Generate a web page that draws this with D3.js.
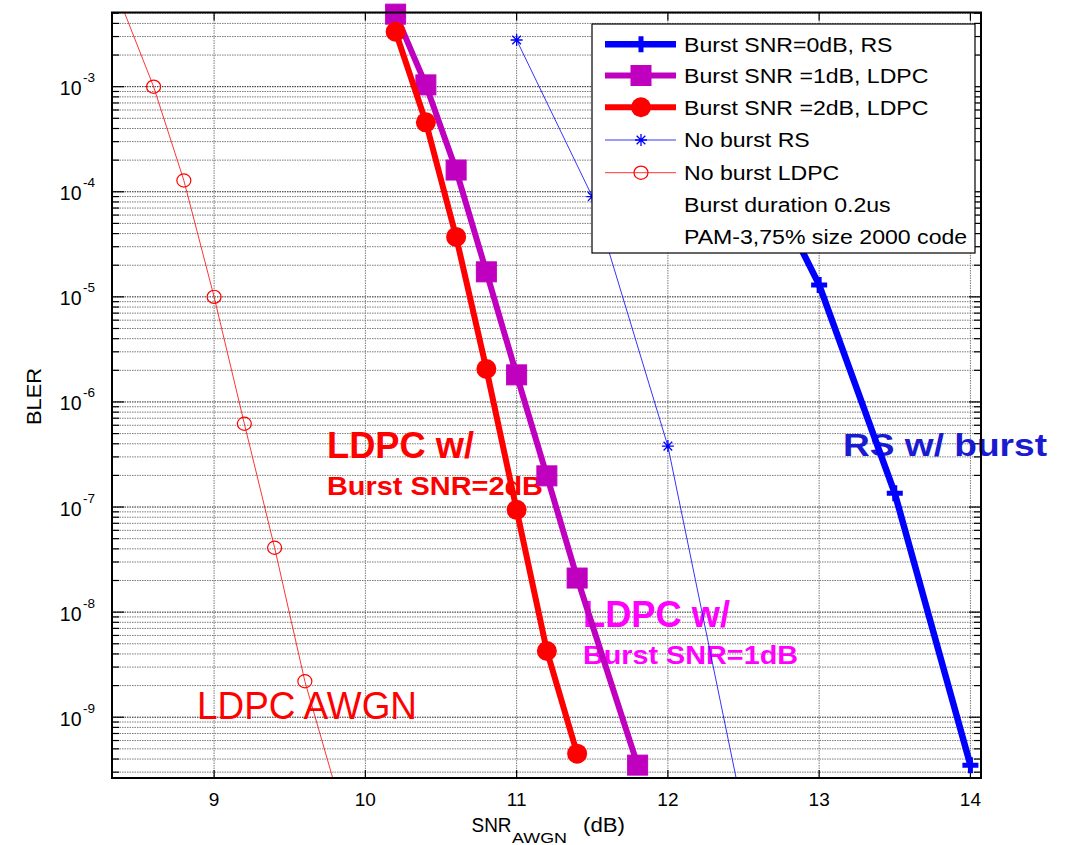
<!DOCTYPE html>
<html>
<head>
<meta charset="utf-8">
<script src="https://cdn.jsdelivr.net/npm/d3@7"></script>
<style>
  html, body { margin: 0; padding: 0; background: #fff; }
  svg { display: block; font-family: "Liberation Sans", Arial, sans-serif; }
</style>
</head>
<body>
<svg id="chart" width="1066" height="845"></svg>
<script>
// ---------------- DATA ----------------
const xTicks = [9, 10, 11, 12, 13, 14];
const yTickExps = [-3, -4, -5, -6, -7, -8, -9];

const burstRS_x = [12.5, 13.0, 13.5, 14.0];
const burstRS_y = [3.6e-4, 1.3e-5, 1.35e-7, 3.5e-10];

const burst1_x = [10.2, 10.4, 10.6, 10.8, 11.0, 11.2, 11.4, 11.8];
const burst1_y = [4.9e-3, 1.04e-3, 1.61e-4, 1.73e-5, 1.81e-6, 1.98e-7, 2.11e-8, 3.5e-10];

const burst2_x = [10.2, 10.4, 10.6, 10.8, 11.0, 11.2, 11.4];
const burst2_y = [3.33e-3, 4.58e-4, 3.72e-5, 2.06e-6, 9.4e-8, 4.27e-9, 4.5e-10];

const noburstRS_x = [11.0, 11.5, 12.0, 12.5];
const noburstRS_y = [2.78e-3, 9.0e-5, 3.8e-7, 1.2e-10];

const noburstLDPC_x = [8.4, 8.6, 8.8, 9.0, 9.2, 9.4, 9.6, 9.8];
const noburstLDPC_y = [5.4e-3, 1.0e-3, 1.28e-4, 1.0e-5, 6.2e-7, 4.1e-8, 2.2e-9, 2.2e-10];

const legendLabels = [
  "Burst SNR=0dB, RS",
  "Burst SNR =1dB, LDPC",
  "Burst SNR =2dB, LDPC",
  "No burst RS",
  "No burst LDPC",
  "Burst duration 0.2us",
  "PAM-3,75% size 2000 code"
];

const xDomain = [8.325, 14.07];
const yDomain = [2.64e-10, 5.08e-3];

// ---------------- LAYOUT ----------------
const L = 112, R = 981, T = 12.5, B = 778;
const svg = d3.select("#chart");
const x = d3.scaleLinear().domain(xDomain).range([L, R]);
const y = d3.scaleLog().domain(yDomain).range([B, T]);

svg.append("defs").append("clipPath").attr("id", "clip")
  .append("rect").attr("x", L).attr("y", T).attr("width", R - L).attr("height", B - T);

// grid
const gridG = svg.append("g");
const minorVals = [];
for (let e = -10; e <= -2; e++) {
  for (let m = 1; m <= 9; m++) {
    const v = m * Math.pow(10, e);
    if (v >= yDomain[0] && v <= yDomain[1]) minorVals.push({v, major: m === 1});
  }
}
gridG.selectAll("line.hg").data(minorVals).join("line")
  .attr("x1", L).attr("x2", R)
  .attr("y1", d => y(d.v)).attr("y2", d => y(d.v))
  .attr("stroke", d => d.major ? "#222" : "#7a7a7a")
  .attr("stroke-width", 1)
  .attr("stroke-dasharray", "1.5,1");
gridG.selectAll("line.vg").data(xTicks).join("line")
  .attr("x1", d => x(d)).attr("x2", d => x(d))
  .attr("y1", T).attr("y2", B)
  .attr("stroke", "#7a7a7a").attr("stroke-width", 1)
  .attr("stroke-dasharray", "1.5,1");

// ticks
const tickG = svg.append("g").attr("stroke", "#000").attr("stroke-width", 1.2);
minorVals.forEach(d => {
  const len = d.major ? 12 : 7;
  tickG.append("line").attr("x1", L).attr("x2", L + len).attr("y1", y(d.v)).attr("y2", y(d.v));
  tickG.append("line").attr("x1", R).attr("x2", R - len).attr("y1", y(d.v)).attr("y2", y(d.v));
});
xTicks.forEach(t => {
  tickG.append("line").attr("x1", x(t)).attr("x2", x(t)).attr("y1", B).attr("y2", B - 8);
  tickG.append("line").attr("x1", x(t)).attr("x2", x(t)).attr("y1", T).attr("y2", T + 8);
});

// tick labels
const labG = svg.append("g").attr("fill", "#000");
xTicks.forEach(t => {
  labG.append("text").attr("x", x(t)).attr("y", 806).attr("text-anchor", "middle")
    .attr("font-size", 19).text(t);
});
yTickExps.forEach(e => {
  const ty = y(Math.pow(10, e));
  labG.append("text").attr("x", 81.5).attr("y", ty + 8.5).attr("text-anchor", "end")
    .attr("font-size", 19.5).text("10");
  labG.append("text").attr("x", 83).attr("y", ty - 4.5).attr("text-anchor", "start")
    .attr("font-size", 13.5).text("-" + Math.abs(e));
});

// axis labels
labG.append("text").attr("x", 471.5).attr("y", 832).attr("font-size", 20)
  .attr("textLength", 40).attr("lengthAdjust", "spacingAndGlyphs").text("SNR");
labG.append("text").attr("x", 512).attr("y", 843).attr("font-size", 15.5)
  .attr("textLength", 55).attr("lengthAdjust", "spacingAndGlyphs").text("AWGN");
labG.append("text").attr("x", 583).attr("y", 832).attr("font-size", 20)
  .attr("textLength", 42).attr("lengthAdjust", "spacingAndGlyphs").text("(dB)");
labG.append("text").attr("transform", "translate(40.5,396.5) rotate(-90)")
  .attr("text-anchor", "middle").attr("font-size", 21)
  .attr("textLength", 57).attr("lengthAdjust", "spacingAndGlyphs").text("BLER");

// annotations (drawn below the curves)
const annG = svg.append("g");
function ann(t, ax, ay, size, weight, fill, w) {
  annG.append("text").attr("x", ax).attr("y", ay).attr("font-size", size)
    .attr("font-weight", weight).attr("fill", fill)
    .attr("textLength", w).attr("lengthAdjust", "spacingAndGlyphs").text(t);
}
ann("LDPC w/", 327, 457.5, 36, "bold", "#ff0000", 147);
ann("Burst SNR=2dB", 327, 495, 26, "bold", "#ff0000", 216);
ann("RS w/ burst", 843, 456, 32, "bold", "#1a1ad2", 204);
ann("LDPC w/", 583, 627, 36, "bold", "#ff00ff", 147);
ann("Burst SNR=1dB", 583, 664, 25, "bold", "#ff00ff", 215);
ann("LDPC AWGN", 197, 719, 38, "normal", "#ff0000", 220);

// ---------------- SERIES ----------------
const inDomain = v => v >= yDomain[0] && v <= yDomain[1];
const line = d3.line().x(d => x(d[0])).y(d => y(d[1]));
const zip = (xs, ys) => xs.map((v, i) => [v, ys[i]]);

function drawMarker(g, type, cx, cy, color) {
  if (type === "plus") {
    g.append("path").attr("d", `M${cx - 8},${cy}H${cx + 8}M${cx},${cy - 8}V${cy + 8}`)
      .attr("stroke", color).attr("stroke-width", 5).attr("fill", "none");
  } else if (type === "square") {
    g.append("rect").attr("x", cx - 10).attr("y", cy - 10).attr("width", 20).attr("height", 20)
      .attr("fill", color).attr("stroke", color).attr("stroke-width", 1);
  } else if (type === "dot") {
    g.append("circle").attr("cx", cx).attr("cy", cy).attr("r", 10).attr("fill", color);
  } else if (type === "star") {
    const r = 6, q = r * 0.72;
    g.append("path").attr("d",
      `M${cx - r},${cy}H${cx + r}M${cx},${cy - r}V${cy + r}M${cx - q},${cy - q}L${cx + q},${cy + q}M${cx - q},${cy + q}L${cx + q},${cy - q}`)
      .attr("stroke", color).attr("stroke-width", 1.3).attr("fill", "none");
  } else if (type === "ocircle") {
    g.append("ellipse").attr("cx", cx).attr("cy", cy).attr("rx", 7).attr("ry", 6.6)
      .attr("fill", "none").attr("stroke", color).attr("stroke-width", 1.2);
  }
}

const series = [
  {xs: burstRS_x, ys: burstRS_y, color: "#0000ff", width: 6.5, marker: "plus"},
  {xs: burst1_x, ys: burst1_y, color: "#bf00bf", width: 6, marker: "square"},
  {xs: burst2_x, ys: burst2_y, color: "#ff0000", width: 6, marker: "dot"},
  {xs: noburstRS_x, ys: noburstRS_y, color: "#0000ff", width: 0.8, marker: "star"},
  {xs: noburstLDPC_x, ys: noburstLDPC_y, color: "#ff0000", width: 0.8, marker: "ocircle"}
];

series.forEach(s => {
  const g = svg.append("g");
  const pts = zip(s.xs, s.ys);
  g.append("path").attr("d", line(pts)).attr("clip-path", "url(#clip)")
    .attr("fill", "none").attr("stroke", s.color).attr("stroke-width", s.width)
    .attr("stroke-linejoin", "round");
  pts.filter(p => inDomain(p[1]) && p[0] >= xDomain[0] && p[0] <= xDomain[1])
    .forEach(p => drawMarker(g, s.marker, x(p[0]), y(p[1]), s.color));
});

// axes box
svg.append("rect").attr("x", L).attr("y", T).attr("width", R - L).attr("height", B - T)
  .attr("fill", "none").attr("stroke", "#000").attr("stroke-width", 2);

// ---------------- LEGEND ----------------
const lg = svg.append("g");
lg.append("rect").attr("x", 592).attr("y", 24).attr("width", 383).attr("height", 229)
  .attr("fill", "#fff").attr("stroke", "#000").attr("stroke-width", 1.2);
const rowY = [44.3, 75.5, 107.3, 140, 172.7, 205, 236.7];
legendLabels.forEach((lab, i) => {
  const ry = rowY[i];
  if (i < series.length) {
    const s = series[i];
    lg.append("line").attr("x1", 605).attr("x2", 676).attr("y1", ry).attr("y2", ry)
      .attr("stroke", s.color).attr("stroke-width", s.width);
    drawMarker(lg, s.marker, 641, ry, s.color);
  }
  lg.append("text").attr("x", 684).attr("y", ry + 7.5).attr("font-size", 21)
    .attr("fill", "#000")
    .attr("transform", `translate(684,0) scale(1.1,1) translate(-684,0)`)
    .text(lab);
});
</script>
</body>
</html>
